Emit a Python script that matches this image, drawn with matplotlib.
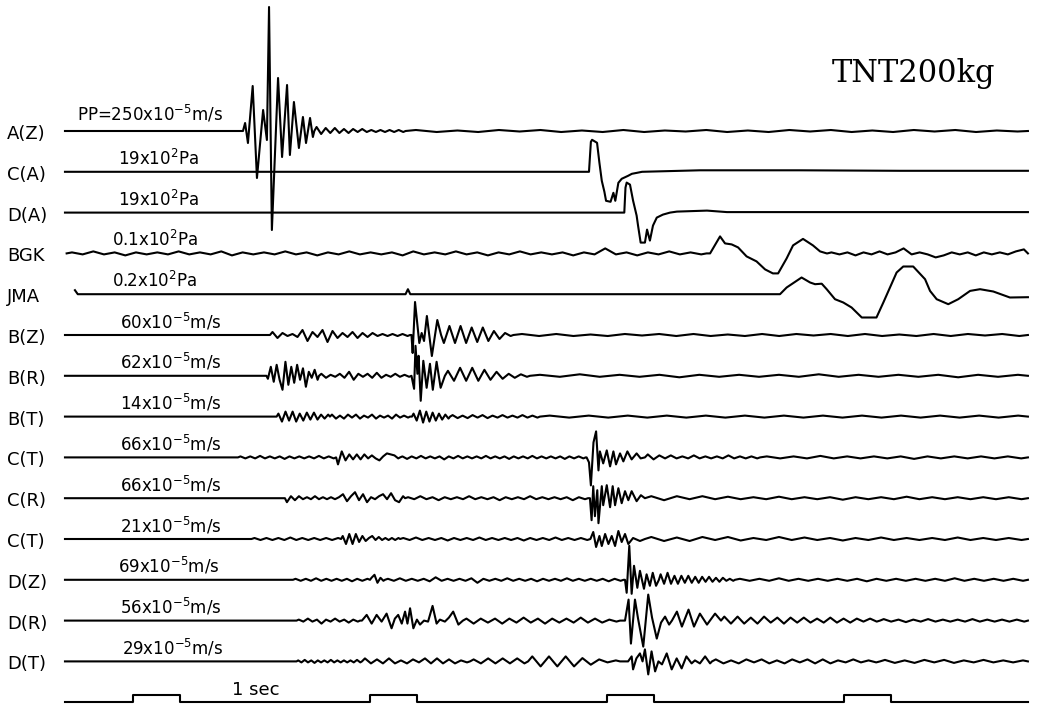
import matplotlib.pyplot as plt

# Time in seconds from the first timing mark, deflection in pixels of the record (up = +)
T_START, T_END = -0.287, 3.776

labels = ['A(Z)', 'C(A)', 'D(A)', 'BGK', 'JMA', 'B(Z)', 'B(R)', 'B(T)',
          'C(T)', 'C(R)', 'C(T)', 'D(Z)', 'D(R)', 'D(T)']
scales = ['PP=250x10$^{-5}$m/s', '19x10$^{2}$Pa', '19x10$^{2}$Pa', '0.1x10$^{2}$Pa',
          '0.2x10$^{2}$Pa', '60x10$^{-5}$m/s', '62x10$^{-5}$m/s', '14x10$^{-5}$m/s',
          '66x10$^{-5}$m/s', '66x10$^{-5}$m/s', '21x10$^{-5}$m/s', '69x10$^{-5}$m/s',
          '56x10$^{-5}$m/s', '29x10$^{-5}$m/s']
pulse_times = [0, 1, 2, 3]
pulse_width = 0.2
pulse_height = 7

# A(Z)
az_t = [0.464, 0.473, 0.485, 0.505, 0.523, 0.549, 0.565, 0.574, 0.586, 0.612, 0.629,
        0.650, 0.662, 0.679, 0.700, 0.717, 0.730, 0.747, 0.759, 0.765]
az_a = [0, 8, -12, 45, -47, 21, -9, 124, -99, 53, -26, 46, -24, 29, -17, 14, -12, 13, -6, 0]
az_bursts = [(0.765, 1.15, [4, -3, 3, -2, 3, -2, 2, -2, 2, -1, 2, -1, 1, -1, 1, -1, 1, -1, 1, -1]),
             (1.15, 3.776, [1, -1, 0.5, -1, 1, -0.5, 1, -1, 0.5, -1, 1, -1, 0.5, -0.5, 1,
                            -1, 0.5, -1, 1, -0.5, 1, -1, 0.5, -1, 1, -0.5, 1, -1, 0.5, -0.5])]

# C(A)
ca_t = [1.924, 1.932, 1.937, 1.958, 1.968, 1.978, 1.989, 1.996, 2.015, 2.027, 2.035,
        2.048, 2.062, 2.089, 2.105, 2.127, 2.148, 2.392, 2.814, 3.236, 3.776]
ca_a = [0, 30, 32, 29, 9, -9, -20, -29, -30, -21, -29, -11, -7, -4, -2, -1, 0, 1.5, 1.5, 1, 1]

# D(A)
da_t = [2.073, 2.078, 2.083, 2.097, 2.110, 2.125, 2.131, 2.142, 2.160, 2.169, 2.181,
        2.194, 2.210, 2.236, 2.266, 2.295, 2.422, 2.506, 3.776]
da_a = [0, 25, 30, 28, 12, -3, -13, -30, -30, -17, -28, -13, -5, -2, 0, 1, 2, 0.5, 0.5]

# BGK
bgk_t = [2.435, 2.477, 2.498, 2.526, 2.553, 2.589, 2.631, 2.667, 2.700, 2.722, 2.758,
         2.785, 2.827, 2.869, 2.899, 2.927]
bgk_a = [0, 17, 10, 9, 6, -3, -8, -16, -20, -20, -5, 8, 14.5, 8, 2, 0]
bgk_bursts = [(-0.28, 2.42, [1, -1, 2, -1, 1, -2, 1, -1, 1, -1, 2, -1, 1, -1, 2, -2, 1, -1, 1, -1,
                             2, -1, 1, -2, 1, -1, 2, -1, 1, -1, 1, -2, 2, -1, 1, -1, 2, -1, 1, -2,
                             1, -1, 2, -1, 1, -1, 1, -2, 1, -1, 5, -1, 1, -2, 1, -1, 2, -1, 1, -1]),
              (2.93, 3.776, [1, -1, 1, -2, 1, -1, 2, -1, 1, 5, -1, 1, -1, -4, -2, 1, -1, 1, -2,
                             1, -1, 1, -1, 2, 4])]

# JMA
jma_t = [-0.245, -0.233, 1.150, 1.160, 1.170, 2.730, 2.758, 2.821, 2.857, 2.878, 2.906,
         2.927, 2.962, 2.997, 3.032, 3.075, 3.137, 3.166, 3.222, 3.250, 3.292, 3.342,
         3.363, 3.391, 3.440, 3.482, 3.532, 3.574, 3.630, 3.700, 3.776]
jma_a = [4, 0, 0, 5, 0, 0, 6.7, 16.7, 11.7, 10, 10.5, 5, -5, -8.3, -13.3, -23.3, -23.3,
         -8.3, 21.7, 27.7, 27.7, 15, 3.3, -5, -10, -5, 3.3, 5, 2.7, -3.3, -3]

# B(Z)
bz_t = [1.175, 1.180, 1.190, 1.208, 1.218, 1.228, 1.240, 1.261, 1.284, 1.300]
bz_a = [0, -18, 33, -8, 2, -6, 19, -21, 15, 0]
bz_bursts = [(0.578, 1.169, [3, -3, 2, -1, 1, -2, 5, -6, 3, -2, 5, -7, 4, -3, 2, -2, 3, -3,
                             2, -2, 2, -1, 1, -1, 1, -1, 1, -1]),
             (1.300, 1.605, [-8, 9, -8, 9, -8, 7.5, -7, 7.5, -6, 4, -4, 2, -1]),
             (1.605, 3.776, [1, -1, 1, -1, 0.5, -1, 1, -0.5, 1, -1, 1, -1, 0.5, -1, 1,
                             -1, 1, -0.5, 1, -1, 1, -1, 0.5, -1, 1, -1, 1, -0.5, 1, -1])]

# B(R)
br_t = [1.175, 1.186, 1.192, 1.200, 1.205, 1.214, 1.225, 1.239, 1.253, 1.265, 1.281, 1.298, 1.316]
br_a = [0, -13, 30, 2, 20, -25, 15, -12, 12, -14, 14, -12, 0]
br_bursts = [(0.563, 0.785, [-3, 9, -6, 11, -4, -14, 14, -9, 9, -7, 11, -4, 7.5, -11, 4, -2, 6, -4]),
             (0.785, 1.175, [2, -2, 1, -1, 2, -2, 4, -4, 2, -1, 2, -2, 3, -2, 1, -1, 2, -1, 1, -1]),
             (1.316, 1.675, [5, -5, 8, -5, 8, -5, 6, -4, 4, -3, 2, -2, 1.5, -1]),
             (1.675, 3.776, [1, -1, 1.5, -1, 1, -1, 1, -1.5, 1, -1, 1, -1, 1, -1, 1.5,
                             -1, 1, -1, 1, -1, 1, -1.5, 1, -1, 1])]

# B(T)
bt_bursts = [(0.606, 0.831, [3, -5, 5, -4, 5, -5, 3, -4, 4, -3, 4, -3, 2, -2, 2]),
             (0.831, 1.169, [2, -2, 1, -2, 2, -1, 2, -2, 1, -1, 2, -2, 1, -1, 1, -2, 2, -1, 1, -1]),
             (1.177, 1.338, [3, -4, 6, -6, 5, -5, 4, -4, 3, -3, 2, -2]),
             (1.338, 1.717, [1.5, -1.5, 1, -1.5, 1.5, -1, 1.5, -1.5, 1, -1, 1.5, -1, 1, -1,
                             1.5, -1, 1, -1]),
             (1.717, 3.776, [1, -1, 1, -1, 1, -1, 1, -1, 1, -1, 1, -1, 1, -1, 1, -1, 1, -1,
                             1, -1, 1, -1, 1, -1, 1])]

# C(T), upper
ct1_t = [1.914, 1.924, 1.932, 1.943, 1.954, 1.964, 1.970, 1.984, 1.999, 2.013, 2.027,
         2.038, 2.055, 2.069, 2.086, 2.104, 2.125, 2.142, 2.160]
ct1_a = [0, -5, -28, 15, 26, -13, 6, -6, 7, -9, 6, -7, 4, -4, 6, -2, 4, -1, 0]
ct1_bursts = [(0.443, 0.857, [1, -1, 1, -1, 1.5, -1, 1, -1, 1, -1.5, 1, -1, 1, -1, 1, -1,
                              1.5, -1, 1, -1]),
              (0.857, 1.127, [-7, 6, -3, 3, -2, 3, -2, 3, -1, 2, -1, -3, 1, 4, 3, 2, -1]),
              (1.127, 1.910, [1, -1.5, 1, -1, 1.5, -1, 1, -1, 1, -2, 1, -1, 1.5, -1, 1, -1,
                              1, -1, 1.5, -1, 1, -1, 1, -1.5, 1, -1, 1, -1, 1.5, -1, 1, -1,
                              1, -1, 1, -1.5, 1, -1, 1, -1]),
              (2.160, 2.646, [3, -2, 2, -1, 2, -1, 1, -1, 2, -1, 1, -1, 1, -1, 2, -1, 1, -1, 1, -1]),
              (2.646, 3.776, [1, -1, 1, -1, 1.5, -1, 1, -1, 1, -1, 1, -1.5, 1, -1, 1, -1,
                              1, -1, 1, -1])]

# C(R)
cr_t = [1.928, 1.935, 1.942, 1.949, 1.959, 1.964, 1.978, 1.984, 1.999, 2.013, 2.024,
        2.034, 2.048, 2.062, 2.076, 2.090, 2.104, 2.125, 2.143, 2.160]
cr_a = [0, -22, 12, -18, 8, -25, 12, -7, 13, -9, 12, -7, 10, -5, 7, -2, 7, -3, 3, 0]
cr_bursts = [(0.641, 1.148, [-4, 2, -2, 2, -1, 1, -1, 2, -1, 1, -1, 1, -1, 1, 4, -3, 2, 6, -2, 4,
                             -4, 1, -1, 2, 4, -1, 5, -2, -4, 2]),
             (1.148, 1.920, [1, -1, 2, -1, 1, -2, 1, -1, 1, -1, 2, -1, 1, -1, 1, -2, 1, -1,
                             1, -1, 2, -1, 1, -1, 1, -1, 1, -2, 1, -1]),
             (2.160, 3.776, [2, -2, 2, -1, 2, -1, 1.5, -1, 1, -1, 1.5, -1, 1, -1, 1, -1.5,
                             1, -1, 1, -1, 1.5, -1, 1, -1, 1, -1, 1, -1, 1, -1])]

# C(T), lower
ct2_t = [1.930, 1.942, 1.954, 1.968, 1.978, 1.992, 2.006, 2.020, 2.034, 2.048, 2.062,
         2.076, 2.090, 2.110, 2.139, 2.160]
ct2_a = [0, 7, -8, 3, -7, 5, -5, 3, -7, 8, -3, 5, -5, 1, -2, 0]
ct2_bursts = [(0.500, 0.878, [1, -1, 1, -1, 1, -1, 1.5, -1, 1, -1, 1, -1, 1, -1, 1]),
              (0.878, 1.127, [3, -5, 5, -5, 5, -3, 3, -2, 1, 3, -1, 2, -1, 1, -1, 1, -1, 1]),
              (1.127, 1.930, [1, -1, 1.5, -1, 1, -1, 1, -1.5, 1, -1, 1, -1, 1.5, -1, 1,
                              -1, 1, -1, 1, -1.5, 1, -1, 1, -1, 1.5, -1, 1, -1, 1, -1]),
              (2.160, 3.776, [2, -2, 1.5, -2, 2, -1, 2, -1.5, 1, -1, 2, -1, 1.5, -1, 1,
                              -1.5, 1, -1, 1.5, -1, 1, -1, 1, -1, 1.5, -1, 1, -1, 1, -1])]

# D(Z)
dz_t = [2.076, 2.083, 2.094, 2.104, 2.114, 2.128, 2.139, 2.156, 2.167, 2.181, 2.193, 2.207, 2.219]
dz_a = [0, -13, 34, -14, 14, -8, 9, -9, 5.5, -6, 7, -6, 0]
dz_bursts = [(0.675, 1.000, [1, -1, 1, -1, 1.5, -1, 1, -1, 1, -1, 1, -1.5, 1, -1, 1]),
             (1.000, 1.063, [2, 5, -3, 2, -1]),
             (1.063, 2.070, [1, -1, 1.5, -1, 1, -1, 1, -1.5, 2.5, -1, 1, -1, 1, -1, 1.5,
                             -3, 1, -1, 1, -1, 1.5, -1, 1, -1, 1, -1.5, 1, -1, 1, -1,
                             1.5, -1, 1, -1, 1, -1, 1, -1.5, 1, -1]),
             (2.219, 2.540, [5.5, -4, 7, -4, 4, -4, 4, -3, 4, -3, 3, -3, 3, -2, 3, -2, 2,
                             -2, 2, -1, 1, -1]),
             (2.540, 3.776, [1, -1, 1, -1, 1.5, -1, 1, -1, 1, -1, 1, -1, 1, -1.5, 1, -1,
                             1, -1, 1, -1, 1, -1, 1.5, -1, 1, -1, 1, -1, 1, -1])]

# D(R)
dr1_t = [0.966, 0.986, 1.007, 1.028, 1.049, 1.070, 1.091, 1.105, 1.119, 1.134, 1.148,
         1.158, 1.169, 1.183, 1.198, 1.211, 1.228, 1.245, 1.264, 1.281, 1.295, 1.316,
         1.333, 1.351, 1.373, 1.392]
dr1_a = [0, 5.7, -3, 5.7, -1, 7, -7.7, 2, 5.7, -3, 9, -3, 12.3, -7.7, 1, -4, 0, -1,
         14.7, -3, 1, -1, 3, 9, -4, 0]
dr2_t = [2.076, 2.091, 2.101, 2.118, 2.131, 2.153, 2.174, 2.190, 2.210, 2.228, 2.245,
         2.262, 2.274, 2.295, 2.316, 2.344, 2.367, 2.392, 2.422, 2.456, 2.481]
dr2_a = [0, 21, -23, 21, 2, -26, 26, 3, -18, -2, 4, -4, 0, 9, -6, 11, -6, 7, -4, 7, 0]
dr_bursts = [(0.690, 0.958, [1, -1, 2, -1, 1, -3, 1, -1, 2, -1, 1, -2, 1, -1]),
             (1.392, 2.055, [2, -3, 2, -2, 2, -3, 2, -2, 3, -2, 2, -3, 2, -2, 2, -2, 3,
                             -2, 2, -2, 1, -1]),
             (2.481, 3.152, [4, -3, 4, -3, 3, -3, 4, -2, 3, -3, 3, -2, 3, -2, 2, -2, 3,
                             -2, 2, -2, 2, -1, 2, -1]),
             (3.152, 3.776, [1.5, -1, 1, -1.5, 1, -1, 1.5, -1, 1, -1, 1, -1, 1.5, -1, 1,
                             -1, 1, -1, 1, -1])]

# D(T)
dt_t = [2.089, 2.104, 2.110, 2.124, 2.139, 2.150, 2.160, 2.174, 2.188, 2.203, 2.217,
        2.232, 2.252, 2.273, 2.294, 2.315, 2.335, 2.357, 2.371, 2.392, 2.414, 2.435, 2.443]
dt_a = [0, 5, -8, 3, 8, 0, 12, -13, 10, -10, 0, -3, 8, -8, 3, -7, 5, -2, 1, -2, 5, -2, 0]
dt_bursts = [(0.690, 0.966, [1, -1, 1.5, -1, 1, -1.5, 1, -1, 1, -1, 1.5, -1, 1, -1, 1,
                             -1, 1, -1, 1.5, -1]),
             (0.966, 1.422, [3, -2, 2, -2, 3, -2, 1, -2, 2, -1, 3, -2, 3, -2, 2, -2, 1, -1]),
             (1.422, 1.667, [2, -2, 3, -2, 3, -2, 3, -2]),
             (1.667, 2.055, [5, -5, 5, -5, 5, -5, 3.3, -3.3, 2, -1, 1]),
             (2.443, 3.152, [2, -2, 1, -2, 2, -1, 2, -2, 1, -2, 2, -1, 2, -2, 2, -2, 1,
                             -1, 2, -1, 1, -1]),
             (3.152, 3.776, [1.5, -1.5, 1, -1.5, 1.5, -1, 1.5, -1.5, 1, -1, 1.5, -1, 1, -1, 1])]

traces = [
    ([(az_t, az_a)], az_bursts),
    ([(ca_t, ca_a)], []),
    ([(da_t, da_a)], []),
    ([(bgk_t, bgk_a)], bgk_bursts),
    ([(jma_t, jma_a)], []),
    ([(bz_t, bz_a)], bz_bursts),
    ([(br_t, br_a)], br_bursts),
    ([], bt_bursts),
    ([(ct1_t, ct1_a)], ct1_bursts),
    ([(cr_t, cr_a)], cr_bursts),
    ([(ct2_t, ct2_a)], ct2_bursts),
    ([(dz_t, dz_a)], dz_bursts),
    ([(dr1_t, dr1_a), (dr2_t, dr2_a)], dr_bursts),
    ([(dt_t, dt_a)], dt_bursts),
]


def build(point_sets, bursts):
    pts = []
    for ts, amps in point_sets:
        pts += list(zip(ts, amps))
    for t0, t1, amps in bursts:
        step = (t1 - t0) / len(amps)
        pts.append((t0, 0.0))
        pts += [(t0 + (k + 0.5) * step, a) for k, a in enumerate(amps)]
        pts.append((t1, 0.0))
    pts.sort(key=lambda p: p[0])
    if pts[0][0] > T_START + 0.05:
        pts.insert(0, (T_START, 0.0))
    if pts[-1][0] < T_END:
        pts.append((T_END, 0.0))
    return [p[0] for p in pts], [p[1] for p in pts]


# layout (pixels of the 1044x706 picture)
px2t = lambda x: (x - 133) / 237
ROW0, ROW_GAP = 131, 40.8
scale_left = [77, 118, 118, 112, 112, 120, 120, 120, 120, 120, 120, 118, 120, 122]

fig = plt.figure(figsize=(10.44, 7.06), dpi=100)
ax = fig.add_axes([0, 0, 1, 1])
ax.set_xlim(px2t(0), px2t(1044))
ax.set_ylim(706, 0)
ax.axis('off')

for i, (point_sets, bursts) in enumerate(traces):
    base = ROW0 + ROW_GAP * i
    t, a = build(point_sets, bursts)
    ax.plot(t, [base - v for v in a], color='black', lw=1.5, solid_joinstyle='round')
    ax.text(px2t(7), base + 3, labels[i], fontsize=13, va='center', ha='left')
    gap = 10 if i == 0 else 7
    ax.text(px2t(scale_left[i]), base - gap, scales[i], fontsize=12, va='baseline', ha='left')

# timing trace
base = ROW0 + ROW_GAP * 14
tt, ty = [T_START], [0]
for p in pulse_times:
    tt += [p, p, p + pulse_width, p + pulse_width]
    ty += [0, pulse_height, pulse_height, 0]
tt.append(T_END)
ty.append(0)
ax.plot(tt, [base - v for v in ty], color='black', lw=1.5)
ax.text(px2t(232), 695, '1 sec', fontsize=13, va='baseline', ha='left')

ax.text(px2t(832), 82, 'TNT200kg', fontsize=22, family='DejaVu Serif', va='baseline', ha='left')

fig.savefig('out.png', dpi=100)
